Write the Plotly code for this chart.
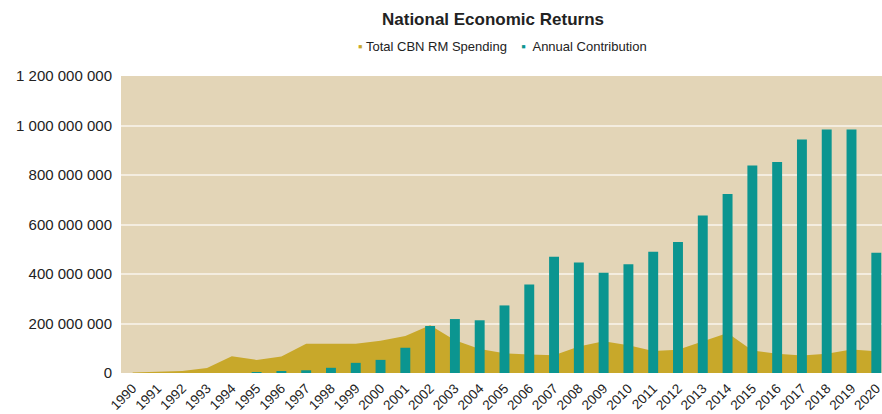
import plotly.graph_objects as go

years = [str(y) for y in range(1990, 2021)]
rm_spending = [2e6, 5e6, 8e6, 20e6, 68e6, 53e6, 67e6, 118e6, 117e6, 118e6, 130e6,
               149e6, 193e6, 132e6, 97e6, 80e6, 75e6, 72e6, 107e6, 128e6, 112e6,
               89e6, 94e6, 128e6, 162e6, 91e6, 78e6, 71e6, 78e6, 95e6, 88e6]
annual_contribution = [0, 0, 0, 0, 0, 3e6, 7e6, 11e6, 21e6, 41e6, 53e6,
                       102e6, 190e6, 218e6, 213e6, 273e6, 358e6, 470e6, 446e6, 405e6, 439e6,
                       490e6, 529e6, 636e6, 723e6, 838e6, 853e6, 943e6, 984e6, 984e6, 486e6]
y_ticks = [0, 200e6, 400e6, 600e6, 800e6, 1000e6, 1200e6]

GOLD = "#C8A82A"
TEAL = "#0B9590"
BG = "#E3D5B7"
GRID = "#F4EDE0"
FONT = "Liberation Sans, Arial, sans-serif"

W, H = 882, 414
L, R, T, B = 121, 0, 76, 41
PW, PH = W - L - R, H - T - B

fig = go.Figure()
fig.add_trace(go.Scatter(x=years, y=rm_spending, mode="lines", fill="tozeroy",
                         line=dict(color=GOLD, width=0), fillcolor=GOLD,
                         name="Total CBN RM Spending", showlegend=False,
                         xaxis="x", yaxis="y"))
fig.add_trace(go.Bar(x=years, y=annual_contribution, marker=dict(color=TEAL, line=dict(width=0)),
                     width=0.4, name="Annual Contribution", showlegend=False,
                     xaxis="x2", yaxis="y2"))

fig.update_layout(
    width=W, height=H,
    margin=dict(l=L, r=R, t=T, b=B, pad=0),
    paper_bgcolor="white", plot_bgcolor=BG,
    separators=". ",
    font=dict(family=FONT, color="#222222"),
    title=dict(text="<b>National Economic Returns</b>", x=493/W, xanchor="center",
               y=1 - 19/H, yanchor="middle", font=dict(size=17, color="#222222")),
    xaxis=dict(type="category", range=[-0.47, 30.23], tickangle=-45,
               tickfont=dict(size=13.5), showgrid=False, zeroline=False,
               showline=False, ticks="", automargin=False, ticklabelstandoff=4),
    yaxis=dict(range=[0, 1.2e9], tickvals=y_ticks, tickformat=",d",
               tickfont=dict(size=15), showgrid=True, gridcolor=GRID, gridwidth=1.5,
               zeroline=False, showline=False, ticklabelstandoff=8, automargin=False),
    xaxis2=dict(type="category", overlaying="x", matches="x", visible=False),
    yaxis2=dict(overlaying="y", matches="y", visible=False),
    annotations=[dict(
        text=(f"<span style='color:{GOLD}'>▪</span> Total CBN RM Spending    "
              f"<span style='color:{TEAL}'>▪</span>  Annual Contribution"),
        x=(502 - L) / PW, y=1 + (T - 47) / PH, xref="paper", yref="paper",
        xanchor="center", yanchor="middle", showarrow=False,
        font=dict(size=13, color="#222222", family=FONT))],
)

fig.write_html("out.html", config={"displayModeBar": False},
               post_script="document.body.style.margin='0';document.body.style.overflow='hidden';")
